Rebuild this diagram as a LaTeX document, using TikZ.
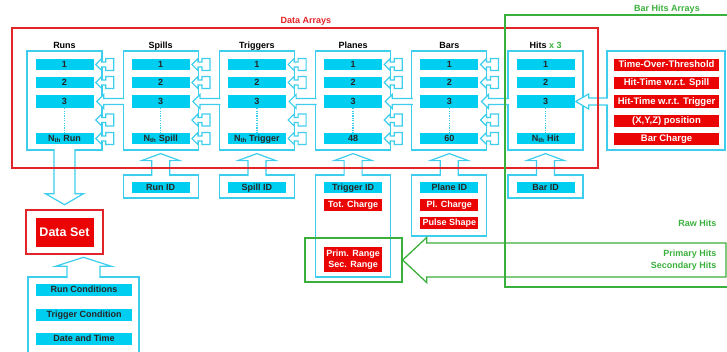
\documentclass[tikz,border=0pt]{standalone}
\usepackage{fontspec}
\setmainfont{Liberation Sans}
\usetikzlibrary{calc}

\definecolor{cyanline}{RGB}{60,206,236}
\definecolor{cyanbar}{RGB}{0,206,240}
\definecolor{redbar}{RGB}{234,4,4}
\definecolor{redframe}{RGB}{226,36,40}
\definecolor{hitgreen}{RGB}{58,176,60}
\newcommand\nthsub{\textsubscript{th}}

\tikzset{
  cell/.style={fill=cyanbar, text=black!85, minimum width=58pt, minimum height=11pt, inner sep=0pt, text height=6.5pt, text depth=1pt, font=\bfseries\fontsize{9}{10}\selectfont},
  redcell/.style={cell, fill=redbar, text=white, minimum height=12pt},
  attrcell/.style={redcell, minimum width=105pt, font=\bfseries\fontsize{9.5}{10}\selectfont},
  colbox/.style={draw=cyanline, line width=1.2pt, minimum width=75pt, minimum height=99pt, inner sep=0pt},
  idbox/.style={draw=cyanline, line width=1.2pt, minimum width=75pt, inner sep=0pt},
  hollow/.style={draw=cyanline, fill=white, line width=1.2pt},
  heading/.style={font=\bfseries\fontsize{9}{10}\selectfont, anchor=base},
  tag/.style={font=\bfseries\fontsize{9}{12}\selectfont},
  frame/.style={line width=1.3pt},
  plug/.pic={\filldraw[hollow] (0,0) -- (6,-6) -- (6,-2.5) -- (10,-2.5) -- (10,-6) -- (18,-6) -- (18,6) -- (10,6) -- (10,2.5) -- (6,2.5) -- (6,6) -- cycle;}
}

\begin{document}
\begin{tikzpicture}[x=1pt,y=-1pt]
\useasboundingbox (0,0) rectangle (727,351);

% data array columns
\foreach \nm/\cx/\hd/\last in {runs/64.5/Runs/N\nthsub{} Run, spills/160.7/Spills/N\nthsub{} Spill, trig/256.9/Triggers/N\nthsub{} Trigger, planes/353.1/Planes/48, bars/449.3/Bars/60, hits/545.5/{Hits \textcolor{hitgreen}{x 3}}/N\nthsub{} Hit}{
  \node[colbox] (\nm-box) at (\cx,100.5) {};
  \node[heading] (\nm-head) at (\cx,48.5) {\hd};
  \node[cell] (\nm-1) at (\cx,64.5) {1};
  \node[cell] (\nm-2) at (\cx,82.5) {2};
  \node[cell, minimum height=13pt] (\nm-3) at (\cx,101.5) {3};
  \node[inner sep=0pt, minimum width=58pt] (\nm-m) at (\cx,120) {};
  \node[cell] (\nm-n) at (\cx,138.5) {\last};
  \draw[cyanline, line width=1.4pt, dash pattern=on 1.2pt off 1.2pt] (\nm-3.south) -- (\nm-n.north);
}

% links between columns
\foreach \a/\b in {runs/spills, spills/trig, trig/planes, planes/bars, bars/hits}{
  \foreach \r in {1,2,m,n} \pic at ($(\a-\r.east)+(2,0)$) {plug};
  \filldraw[hollow] ($(\b-box.west |- \a-3.east)+(1.6,3)$) -- ($(\a-3.east)+(10,3)$) -- ++(0,4) -- ($(\a-3.east)+(3,0)$) -- ++(7,-7) -- ++(0,4) -- ($(\b-box.west |- \a-3.east)+(1.6,-3)$);
}

% hit attributes
\node[colbox, minimum width=118pt] (attr-box) at (666,100.5) {};
\node[attrcell] (attr-1) at (666.5,65) {Time-Over-Threshold};
\node[attrcell] (attr-2) at (666.5,82.5) {Hit-Time w.r.t. Spill};
\node[attrcell, minimum height=13pt] (attr-3) at (666.5,101.5) {Hit-Time w.r.t. Trigger};
\node[attrcell] (attr-4) at (666.5,120.5) {(X,Y,Z) position};
\node[attrcell] (attr-5) at (666.5,138.5) {Bar Charge};
\filldraw[hollow] ($(attr-box.west |- hits-3.east)+(1.6,3.5)$) -- ($(hits-3.east)+(14,3.5)$) -- ++(0,4) -- ($(hits-3.east)+(1,0)$) -- ++(13,-7.5) -- ++(0,4) -- ($(attr-box.west |- hits-3.east)+(1.6,-3.5)$);

% id boxes
\node[idbox, minimum height=23pt] (runid-box) at (160.7,186.5) {};
\node[cell] (runid) at (160.7,187.5) {Run ID};
\node[idbox, minimum height=23pt] (spillid-box) at (256.9,186.5) {};
\node[cell] (spillid) at (256.9,187.5) {Spill ID};
\node[idbox, minimum height=102pt] (trigid-box) at (353.1,226) {};
\node[cell] (trigid) at (353.1,187.5) {Trigger ID};
\node[redcell] (totcharge) at (353.1,205) {Tot. Charge};
\node[redcell, minimum height=25pt, text height=, text depth=, align=center, font=\bfseries\fontsize{9}{11.5}\selectfont] (ranges) at (353.1,259.5) {Prim. Range\\Sec. Range};
\node[idbox, minimum height=61pt] (planeid-box) at (449.3,205.5) {};
\node[cell] (planeid) at (449.3,187.5) {Plane ID};
\node[redcell] (plcharge) at (449.3,205) {Pl. Charge};
\node[redcell] (pulse) at (449.3,223) {Pulse Shape};
\node[idbox, minimum height=23pt] (barid-box) at (545.5,186.5) {};
\node[cell] (barid) at (545.5,187.5) {Bar ID};

\foreach \id/\col in {runid/spills, spillid/trig, trigid/planes, planeid/bars, barid/hits}
  \filldraw[hollow] ($(\id-box.north)+(-9,1.6)$) -- ($(\col-box.south)+(-9,10)$) -- ++(-10,0) -- ($(\col-box.south)+(0,3)$) -- ++(19,7) -- ++(-10,0) -- ($(\id-box.north)+(9,1.6)$);

% data set
\node[draw=redframe, line width=2.6pt, minimum width=77pt, minimum height=44pt] (dataset-box) at (64.5,232) {};
\node[fill=redbar, text=white, minimum width=58pt, minimum height=29pt, inner sep=0pt, font=\bfseries\fontsize{12.5}{13}\selectfont] (dataset) at (64.5,232.5) {Data Set};
\filldraw[hollow] ($(runs-box.south)+(-10.5,-1.6)$) -- ($(dataset-box.north)+(-10.5,-15)$) -- ++(-8.5,0) -- ($(dataset-box.north)+(0,-4)$) -- ++(19,-11) -- ++(-8.5,0) -- ($(runs-box.south)+(10.5,-1.6)$);

\node[idbox, minimum width=111pt, minimum height=80pt] (cond-box) at (83.5,317) {};
\node[cell, minimum width=96pt, minimum height=12pt] (runcond) at (84,290) {Run Conditions};
\node[cell, minimum width=96pt, minimum height=12pt] (trigcond) at (84,315) {Trigger Condition};
\node[cell, minimum width=96pt, minimum height=12pt] (datetime) at (84,338.5) {Date and Time};
\filldraw[hollow] ($(cond-box.north)+(-16.5,1.6)$) -- ($(cond-box.north |- dataset-box.south)+(-16.5,11)$) -- ++(-11.5,0) -- ($(cond-box.north |- dataset-box.south)+(0,2)$) -- ++(28,9) -- ++(-11.5,0) -- ($(cond-box.north)+(16.5,1.6)$);

% hit types
\node[draw=hitgreen, line width=1.3pt, minimum width=97pt, minimum height=44pt] (range-box) at (353.5,260) {};
\coordinate (hits-tail) at (726,260);
\draw[hitgreen, line width=1.3pt] (range-box.east) -- ++(24,-22.5) -- ++(0,5.5) -- ($(hits-tail)+(0,-17)$) -- ++(0,34) -- ($(range-box.east)+(24,17)$) -- ++(0,5.5) -- cycle;
\node[tag, text=hitgreen, anchor=east] (rawhits) at (720,223) {Raw Hits};
\node[tag, text=hitgreen, anchor=east, align=right] (subhits) at (720,260) {Primary Hits\\Secondary Hits};

% frames
\draw[redframe, frame] (12,28) rectangle (598,168);
\node[tag, text=redframe] (arrays-label) at (306,21) {Data Arrays};
\draw[hitgreen, frame] (735,15) -- (505,15) -- (505,287) -- (735,287);
\node[tag, text=hitgreen] (barhits-label) at (667,9) {Bar Hits Arrays};
\end{tikzpicture}
\end{document}
